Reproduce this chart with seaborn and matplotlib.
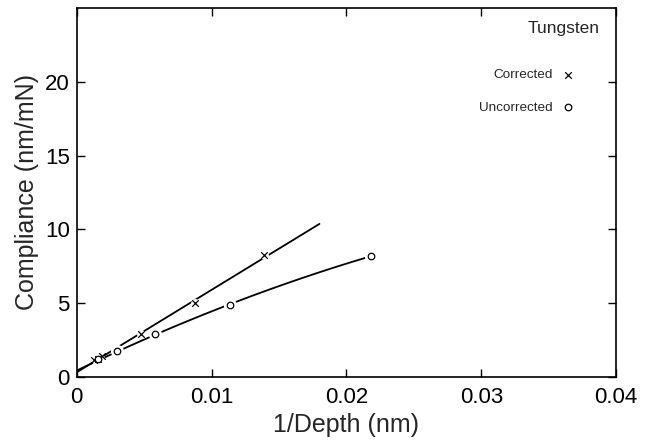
import numpy as np
import seaborn as sns
import matplotlib.pyplot as plt

# data
corr_x = [0.00128, 0.0016, 0.0019, 0.0048, 0.0088, 0.0139]
corr_y = [1.15, 1.25, 1.4, 2.9, 5.0, 8.25]
unc_x = [0.0016, 0.0030, 0.0058, 0.0114, 0.0218]
unc_y = [1.25, 1.76, 2.9, 4.86, 8.2]
x_ticks = [0, 0.01, 0.02, 0.03, 0.04]
x_tick_labels = ["0", "0.01", "0.02", "0.03", "0.04"]
y_ticks = [0, 5, 10, 15, 20]

sns.set_theme(style="ticks")
plt.rcParams['font.family'] = ['Liberation Sans', 'DejaVu Sans']

fig = plt.figure(figsize=(6.5, 4.42), dpi=100)
ax = fig.add_axes([0.118, 0.147, 0.830, 0.835])

# fitted lines
cfit = np.polyfit(corr_x, corr_y, 1)
xc = np.linspace(0, 0.018, 50)
ax.plot(xc, np.polyval(cfit, xc), color="black", lw=1.3, zorder=1)

ufit = np.polyfit([0] + unc_x, [0.3] + unc_y, 2)
xu = np.linspace(0, 0.0218, 80)
ax.plot(xu, np.polyval(ufit, xu), color="black", lw=1.3, zorder=1)

# white halos to break the lines at the markers
ax.scatter(unc_x, unc_y, s=90, color="white", zorder=2, linewidths=0)
ax.scatter(corr_x[3:], corr_y[3:], s=40, color="white", zorder=2, linewidths=0)

sns.scatterplot(x=corr_x, y=corr_y, marker="x", s=22, color="black",
                linewidth=0.9, ax=ax, zorder=3, label="Corrected")
sns.scatterplot(x=unc_x, y=unc_y, marker="o", s=22, facecolor="white",
                edgecolor="black", linewidth=0.9, ax=ax, zorder=3,
                label="Uncorrected")

ax.set_xlim(0, 0.04)
ax.set_ylim(0, 25)
ax.set_xticks(x_ticks)
ax.set_xticklabels(x_tick_labels)
ax.set_yticks(y_ticks)
ax.tick_params(direction="in", length=6, width=1, labelsize=16,
               top=True, right=True, colors="black")
ax.tick_params(axis="x", pad=7)
ax.tick_params(axis="y", pad=5)
for sp in ax.spines.values():
    sp.set_linewidth(1.2)
    sp.set_color("black")

ax.set_xlabel("1/Depth (nm)", fontsize=18, labelpad=4)
ax.set_ylabel("Compliance (nm/mN)", fontsize=18, labelpad=4)

ax.text(0.970, 0.944, "Tungsten", transform=ax.transAxes, ha="right",
        va="center", fontsize=12.5)
leg = ax.legend(loc="upper right", bbox_to_anchor=(0.945, 0.868), frameon=False,
                markerfirst=False, fontsize=9.7, handletextpad=0.6,
                handlelength=1.0, labelspacing=1.5)

fig.savefig("out.png", dpi=100)
